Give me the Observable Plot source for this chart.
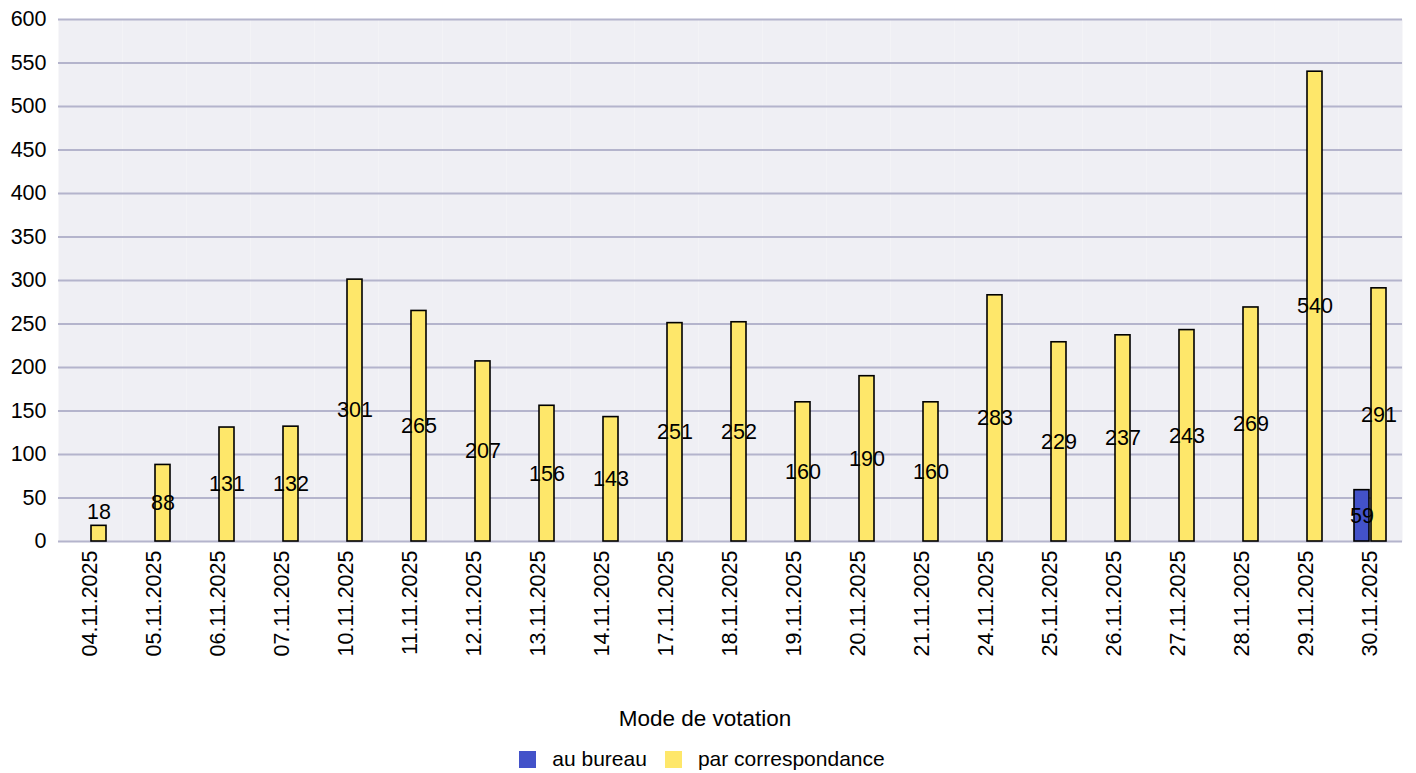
<!DOCTYPE html>
<html><head><meta charset="utf-8">
<script src="https://cdn.jsdelivr.net/npm/d3@7"></script>
<script src="https://cdn.jsdelivr.net/npm/@observablehq/plot@0.6"></script>
<style>
html,body{margin:0;padding:0;background:#fff;font-family:"Liberation Sans",Arial,sans-serif;}
#wrap{position:relative;width:1416px;height:773px;overflow:hidden;}
#legend{position:absolute;left:0;top:705px;width:1416px;text-align:center;color:#000;}
#legend .title{font-size:22.5px;margin-left:-6px;line-height:28px;}
#legend .row{margin-top:14px;display:flex;justify-content:center;align-items:center;font-size:21px;line-height:24px;margin-left:-12px;}
#legend .item{display:flex;align-items:center;margin:0 9px;}
#legend .sw{width:17px;height:17px;margin-right:16px;}
</style></head><body>
<div id="wrap"><div id="chart"></div><div id="legend"></div></div>
<script>
const dates = ["04.11.2025","05.11.2025","06.11.2025","07.11.2025","10.11.2025","11.11.2025","12.11.2025","13.11.2025","14.11.2025","17.11.2025","18.11.2025","19.11.2025","20.11.2025","21.11.2025","24.11.2025","25.11.2025","26.11.2025","27.11.2025","28.11.2025","29.11.2025","30.11.2025"];
const parCorrespondance = [18,88,131,132,301,265,207,156,143,251,252,160,190,160,283,229,237,243,269,540,291];
const auBureau = [null,null,null,null,null,null,null,null,null,null,null,null,null,null,null,null,null,null,null,null,59];
const modes = ["au bureau","par correspondance"];
const modeColors = ["#4352C9","#FEE76A"];
const yTicks = [0,50,100,150,200,250,300,350,400,450,500,550,600];
const legendTitle = "Mode de votation";

const data = [];
dates.forEach((d,i)=>{
  if (auBureau[i] != null) data.push({date:d, mode:modes[0], value:auBureau[i]});
  if (parCorrespondance[i] != null) data.push({date:d, mode:modes[1], value:parCorrespondance[i]});
});

const chart = Plot.plot({
  width:1416, height:690,
  marginTop:19, marginLeft:56, marginRight:13, marginBottom:149,
  style:{fontSize:"21.5px", fontFamily:"'Liberation Sans', Arial, sans-serif", color:"#000", background:"transparent", overflow:"visible"},
  fx:{domain:dates, padding:0, label:null, axis:"bottom", tickRotate:-90, tickSize:0, tickPadding:9},
  x:{domain:modes, paddingInner:0.14, paddingOuter:0.85, axis:null},
  y:{domain:[0,600], ticks:yTicks, tickSize:0, tickPadding:12, label:null},
  color:{domain:modes, range:modeColors},
  marks:[
    Plot.frame({fill:"#EFEFF4", stroke:"none"}),
    Plot.gridY(yTicks, {stroke:"#B4B4CC", strokeOpacity:1, strokeWidth:2}),
    Plot.barY(data, {fx:"date", x:"mode", y:"value", fill:"mode", stroke:"#000", strokeWidth:1.6}),
    Plot.text(data.filter(d=>d.value>=30), {fx:"date", x:"mode", y:d=>d.value/2, text:d=>String(d.value), fill:"#000"}),
    Plot.text(data.filter(d=>d.value<30), {fx:"date", x:"mode", y:"value", text:d=>String(d.value), fill:"#000", dy:-14})
  ]
});
document.getElementById("chart").appendChild(chart);

const lg = document.getElementById("legend");
const t = document.createElement("div"); t.className="title"; t.textContent = legendTitle; lg.appendChild(t);
const row = document.createElement("div"); row.className="row";
modes.forEach((m,i)=>{
  const it = document.createElement("div"); it.className="item";
  const sw = document.createElement("div"); sw.className="sw"; sw.style.background = modeColors[i];
  const lab = document.createElement("span"); lab.textContent = m;
  it.appendChild(sw); it.appendChild(lab); row.appendChild(it);
});
lg.appendChild(row);
</script>
</body></html>
